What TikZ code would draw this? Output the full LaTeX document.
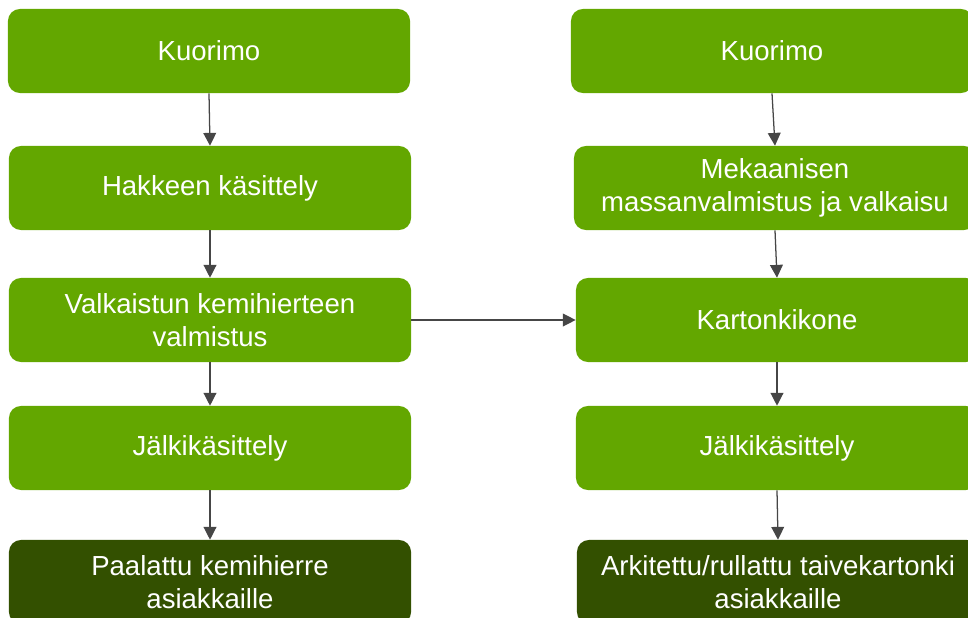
\documentclass[tikz,border=0pt]{standalone}
\usepackage{fontspec}
\setmainfont{Liberation Sans}
\definecolor{leafgreen}{RGB}{99,167,0}
\definecolor{darkleaf}{RGB}{51,80,0}
\definecolor{arrowgray}{RGB}{70,70,70}
\usetikzlibrary{arrows.meta}

\begin{document}
\begin{tikzpicture}[x=0.025cm, y=-0.025cm,
  stage/.style={fill=leafgreen, rounded corners=0.3cm, minimum width=10.05cm, minimum height=2.1cm,
    inner sep=0pt, align=center, text=white, font=\fontsize{19.6pt}{23.5pt}\selectfont},
  product/.style={stage, fill=darkleaf},
  flow/.style={-{Triangle[length=0.32cm, width=0.32cm]}, line width=0.9pt, arrowgray}]
  % Frame (the picture is cut at the right and bottom)
  \useasboundingbox (0,0) rectangle (968,618);
  \clip (0,0) rectangle (968,618);

  % Left chain: kemihierre
  \node[stage] (kuorimoL) at (209,51) {Kuorimo};
  \node[stage] (hakeL) at (210,188) {Hakkeen käsittely};
  \node[stage] (valkL) at (210,320) {Valkaistun kemihierteen\\valmistus};
  \node[stage] (jalkiL) at (210,448) {Jälkikäsittely};
  \node[product] (paalL) at (210,582) {Paalattu kemihierre\\asiakkaille};

  % Right chain: taivekartonki
  \node[stage] (kuorimoR) at (772,51) {Kuorimo};
  \node[stage] (mekR) at (775,188) {Mekaanisen\\massanvalmistus ja valkaisu};
  \node[stage] (kartonkiR) at (777,320) {Kartonkikone};
  \node[stage] (jalkiR) at (777,448) {Jälkikäsittely};
  \node[product] (arkR) at (778,582) {Arkitettu/rullattu taivekartonki\\asiakkaille};

  % Arrows
  \draw[flow] (kuorimoL.south) -- (hakeL.north);
  \draw[flow] (hakeL.south) -- (valkL.north);
  \draw[flow] (valkL.south) -- (jalkiL.north);
  \draw[flow] (jalkiL.south) -- (paalL.north);
  \draw[flow] (kuorimoR.south) -- (mekR.north);
  \draw[flow] (mekR.south) -- (kartonkiR.north);
  \draw[flow] (kartonkiR.south) -- (jalkiR.north);
  \draw[flow] (jalkiR.south) -- (arkR.north);
  \draw[flow] (valkL.east) -- (kartonkiR.west);
\end{tikzpicture}
\end{document}
